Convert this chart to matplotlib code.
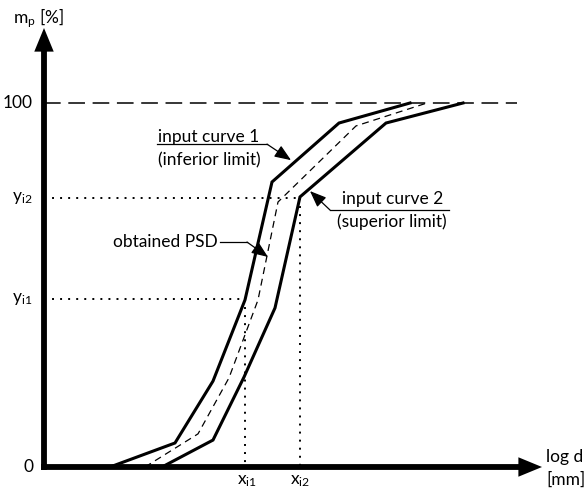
import matplotlib
matplotlib.use("Agg")
import matplotlib.pyplot as plt
from matplotlib.patches import FancyArrowPatch

plt.rcParams['font.family'] = ['Lato', 'DejaVu Sans']
plt.rcParams['mathtext.fontset'] = 'custom'
plt.rcParams['mathtext.rm'] = 'Lato'
plt.rcParams['mathtext.it'] = 'Lato:italic'
plt.rcParams['lines.scale_dashes'] = False

# ---- data (log d in arbitrary units, m_p in %) ----
curve1_x = [13.2, 26.2, 33.8, 40.2, 45.6, 59.0, 73.2]
curve1_y = [0, 6.6, 23.6, 45.9, 78.3, 94.5, 100]
curve2_x = [23.6, 33.8, 40.0, 46.2, 51.2, 68.4, 83.8]
curve2_y = [0, 7.4, 24.7, 43.7, 74.2, 94.5, 100]
psd_x = [20.2, 30.8, 37.0, 42.8, 46.8, 62.4, 76.6]
psd_y = [0, 9.1, 24.5, 45.9, 72.8, 93.7, 100]
x_i1, x_i2 = 40.2, 51.2
y_i1, y_i2 = 46.2, 73.9

fig = plt.figure(figsize=(5.88, 4.92), dpi=100)
ax = fig.add_axes([0, 0, 1, 1])
ax.set_xlim(-8.8, 108.8)
ax.set_ylim(-6.868, 128.297)
ax.axis('off')

FS = 12.5

# 100% dashed line
ax.plot([0, 94.6], [100, 100], color='black', lw=1.1, dashes=(12, 5.5))

# dotted guide lines
dot = dict(color='black', lw=1.4, dashes=(1.4, 4.4), solid_capstyle='butt')
ax.plot([0, x_i1], [y_i1, y_i1], **dot)
ax.plot([x_i1, x_i1], [y_i1, 0], **dot)
ax.plot([0, x_i2], [y_i2, y_i2], **dot)
ax.plot([x_i2, x_i2], [y_i2, 0], **dot)

# curves
ax.plot(curve1_x, curve1_y, color='black', lw=2.2, solid_joinstyle='miter')
ax.plot(curve2_x, curve2_y, color='black', lw=2.2, solid_joinstyle='miter')
ax.plot(psd_x, psd_y, color='black', lw=0.9, dashes=(5, 3.5))

# axes with arrows
for (x0, y0), (x1, y1) in [((0, -0.8), (0, 120.6)), ((-0.6, 0), (99.6, 0))]:
    ax.add_patch(FancyArrowPatch((x0, y0), (x1, y1),
                                 arrowstyle='simple,head_length=17,head_width=14,tail_width=4.2',
                                 mutation_scale=1, shrinkA=0, shrinkB=0,
                                 lw=0, color='black', zorder=5))

# axis labels
ax.text(-6.2, 123.4, r'm$_{\mathrm{p}}$ [%]', fontsize=FS, ha='left', va='center')
ax.text(-2.2, 100, '100', fontsize=FS, ha='right', va='center')
ax.text(-2.2, 0, '0', fontsize=FS, ha='right', va='center')
ax.text(-2.4, y_i2, r'y$_{\mathrm{i2}}$', fontsize=FS, ha='right', va='center')
ax.text(-2.4, y_i1, r'y$_{\mathrm{i1}}$', fontsize=FS, ha='right', va='center')
ax.text(x_i1 + 0.3, -3.9, r'x$_{\mathrm{i1}}$', fontsize=FS, ha='center', va='center')
ax.text(x_i2, -3.9, r'x$_{\mathrm{i2}}$', fontsize=FS, ha='center', va='center')
ax.text(100.4, 2.75, 'log d', fontsize=FS, ha='left', va='center')
ax.text(100.4, -3.6, '[mm]', fontsize=FS, ha='left', va='center')

# annotations
lead = dict(color='black', lw=0.9)
arr = dict(arrowstyle='-|>,head_length=1.0,head_width=0.4', color='black',
           lw=0.9, shrinkA=0, shrinkB=0, mutation_scale=10)

ax.text(33.0, 90.7, 'input curve 1', fontsize=FS, ha='center', va='center')
ax.text(33.0, 84.3, '(inferior limit)', fontsize=FS, ha='center', va='center')
ax.plot([22.6, 44.6], [88.7, 88.7], **lead)
ax.annotate('', xy=(49.4, 84.3), xytext=(44.6, 88.7), arrowprops=arr)

ax.text(24.2, 61.8, 'obtained PSD', fontsize=FS, ha='center', va='center')
ax.plot([35.2, 40.6], [61.8, 61.8], **lead)
ax.annotate('', xy=(44.8, 57.7), xytext=(40.6, 61.8), arrowprops=arr)

ax.text(69.8, 73.6, 'input curve 2', fontsize=FS, ha='center', va='center')
ax.text(69.6, 67.3, '(superior limit)', fontsize=FS, ha='center', va='center')
ax.plot([57.2, 81.0], [70.6, 70.6], **lead)
ax.annotate('', xy=(53.2, 75.8), xytext=(57.2, 70.6), arrowprops=arr)

fig.savefig('out.png', dpi=100)
